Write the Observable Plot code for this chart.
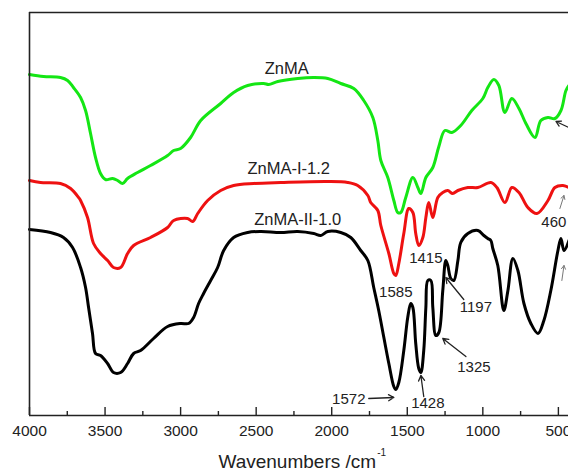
<!DOCTYPE html>
<html>
<head>
<meta charset="utf-8">
<script src="https://cdn.jsdelivr.net/npm/d3@7"></script>
<script src="https://cdn.jsdelivr.net/npm/@observablehq/plot@0.6"></script>
<style>
  body { margin: 0; background: #fff; width: 568px; height: 472px; overflow: hidden; }
  svg { overflow: hidden; }
</style>
</head>
<body>
<div id="chart"></div>
<script>
// Wavenumber (cm^-1) and transmittance (arbitrary units, offset stacked)
const greenWave = [4000,3907,3795,3748,3709,3662,3629,3596,3563,3530,3497,3450,3417,3384,3351,3285,3199,3086,3046,3000,2934,2867,2735,2649,2556,2450,2417,2357,2225,2119,2026,1940,1854,1788,1728,1695,1675,1629,1589,1563,1543,1510,1463,1430,1410,1377,1331,1291,1251,1205,1146,1073,1000,967,927,894,854,808,761,715,655,616,569,523,483,450,430];
const greenT    = [341,339,338,335,328,318,305,282,258,242,236,237,235,232,237,243,250,260,265,267,278,295,312,323,330,332,331,334,337,338,337,332,327,315,298,275,255,238,215,203,203,218,238,228,222,238,248,269,285,283,290,305,317,328,336,330,303,317,307,292,278,295,298,297,305,325,330];

const redWave = [4000,3927,3795,3728,3675,3662,3616,3576,3530,3483,3444,3397,3351,3311,3199,3086,3046,2954,2920,2887,2821,2735,2649,2516,2338,2026,1894,1828,1761,1742,1695,1675,1622,1589,1576,1556,1523,1490,1463,1444,1424,1397,1377,1358,1331,1298,1265,1232,1199,1165,1099,1033,947,907,854,808,761,702,642,569,523,470,430];
const redT    = [235,233,232,227,218,215,198,172,162,155,148,148,162,170,178,188,195,197,194,202,215,225,230,232,233,234,233,230,220,213,205,190,162,142,140,152,182,207,203,182,170,178,198,213,198,218,223,225,222,225,228,228,233,228,213,228,223,208,202,215,228,230,228];

const blackWave = [4000,3861,3775,3715,3662,3629,3609,3583,3563,3530,3483,3444,3397,3351,3311,3265,3179,3086,3000,2947,2914,2881,2848,2801,2755,2715,2649,2556,2470,2338,2225,2119,2073,2026,1940,1874,1808,1761,1722,1689,1655,1622,1589,1576,1556,1523,1497,1477,1463,1444,1424,1410,1391,1377,1364,1344,1331,1311,1291,1265,1245,1232,1212,1192,1165,1146,1099,1033,993,967,947,934,901,861,834,801,768,728,682,635,596,550,503,483,463,430];
const blackT    = [186,183,178,168,148,128,108,82,62,60,52,43,43,52,62,65,77,89,92,92,98,112,122,135,148,165,178,183,184,183,184,182,180,184,183,178,165,155,128,105,78,52,29,26,33,65,98,112,108,72,47,43,65,108,135,135,108,80,83,125,155,150,137,135,155,173,182,185,180,177,175,167,150,105,125,157,145,112,92,82,95,125,165,177,165,175];

const seriesNames = ["ZnMA", "ZnMA-I-1.2", "ZnMA-II-1.0"];
const seriesColors = ["#14e614", "#ee1111", "#000000"];

const majorTicks = [4000,3500,3000,2500,2000,1500,1000,500];
const minorTicks = [3750,3250,2750,2250,1750,1250,750];

// peak labels
const peakLabels = ["1415","1585","1197","1325","1572","1428","460"];
const peakLabelX = [1377,1576,1046,1059,1887,1364,530];
const peakLabelY = [157,123,108,48,16,12,193];

// arrows: tail (x1,y1) -> head (x2,y2)
const arrowX1 = [1126,1112,1755,1391];
const arrowY1 = [116,59,17,19];
const arrowX2 = [1245,1265,1589,1410];
const arrowY2 = [138,77,18,40];
const grayArrowX1 = [490,477];
const grayArrowY1 = [207,135];
const grayArrowX2 = [463,463];
const grayArrowY2 = [220,150];
const sideArrowX1 = [417];
const sideArrowY1 = [287];
const sideArrowX2 = [516];
const sideArrowY2 = [294];

// series name labels
const nameX = [2298,2285,2225];
const nameY = [347,247,196];

const toRows = (w, t, s) => w.map((x, i) => ({w: x, t: t[i], s}));
const lines = [
  toRows(greenWave, greenT, seriesNames[0]),
  toRows(redWave, redT, seriesNames[1]),
  toRows(blackWave, blackT, seriesNames[2])
];
const names = seriesNames.map((n, i) => ({n, x: nameX[i], y: nameY[i]}));
const peaks = peakLabels.map((l, i) => ({l, x: peakLabelX[i], y: peakLabelY[i]}));
const arrows = arrowX1.map((x, i) => ({x1: x, y1: arrowY1[i], x2: arrowX2[i], y2: arrowY2[i]}));
const grayArrows = grayArrowX1.map((x, i) => ({x1: x, y1: grayArrowY1[i], x2: grayArrowX2[i], y2: grayArrowY2[i]}));
const sideArrows = sideArrowX1.map((x, i) => ({x1: x, y1: sideArrowY1[i], x2: sideArrowX2[i], y2: sideArrowY2[i]}));

const font = "'Liberation Sans', Arial, sans-serif";

const chart = Plot.plot({
  width: 568,
  height: 472,
  marginLeft: 29,
  marginRight: -5,
  marginTop: 12,
  marginBottom: 57,
  style: {fontFamily: font, background: "#fff", overflow: "hidden"},
  x: {domain: [4000, 400], axis: null},
  y: {domain: [0, 403], axis: null},
  marks: [
    ...lines.map((rows, i) => Plot.line(rows, {x: "w", y: "t", stroke: seriesColors[i], strokeWidth: 3, strokeLinejoin: "round", curve: "catmull-rom"})),
    Plot.ruleY([0], {stroke: "#222", strokeWidth: 1.6}),
    Plot.ruleY([403], {stroke: "#222", strokeWidth: 1.6}),
    Plot.ruleX([4000], {stroke: "#222", strokeWidth: 1.6}),
    Plot.ruleX(majorTicks, {y1: 0, y2: 8, stroke: "#222", strokeWidth: 1.4}),
    Plot.ruleX(minorTicks, {y1: 0, y2: 4, stroke: "#222", strokeWidth: 1.4}),
    Plot.axisX({ticks: majorTicks, tickSize: 0, tickPadding: 9, fontSize: 15.5, fill: "#222", tickFormat: d => String(d)}),
    Plot.text(names, {x: "x", y: "y", text: "n", fontSize: 16.5, fill: "#222"}),
    Plot.text(peaks, {x: "x", y: "y", text: "l", fontSize: 15, fill: "#222"}),
    Plot.arrow(arrows, {x1: "x1", y1: "y1", x2: "x2", y2: "y2", stroke: "#222", strokeWidth: 1.3, headLength: 7}),
    Plot.arrow(grayArrows, {x1: "x1", y1: "y1", x2: "x2", y2: "y2", stroke: "#777", strokeWidth: 1, headLength: 6}),
    Plot.arrow(sideArrows, {x1: "x1", y1: "y1", x2: "x2", y2: "y2", stroke: "#222", strokeWidth: 1.3, headLength: 7}),
    Plot.text(["Wavenumbers /cm"], {x: 2228, y: -46, fontSize: 19, fill: "#222"}),
    Plot.text(["-1"], {x: 1669, y: -37, fontSize: 10, fill: "#222"})
  ]
});
document.getElementById("chart").appendChild(chart);
</script>
</body>
</html>
